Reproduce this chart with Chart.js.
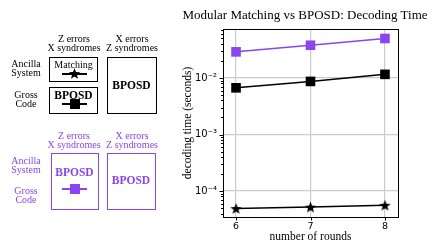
<!DOCTYPE html>
<html>
<head>
<meta charset="utf-8">
<script src="https://cdn.jsdelivr.net/npm/chart.js@4.4.1/dist/chart.umd.min.js"></script>
<style>
  html, body { margin: 0; padding: 0; background: #fff; }
  #wrap { position: relative; width: 436px; height: 250px; overflow: hidden; }
  #chart { position: absolute; left: 0; top: 0; }
  .lbl { position: absolute; font-family: "Liberation Serif", serif; font-size: 10px; line-height: 9px;
         white-space: nowrap; transform: translate(-50%, -50%); text-align: center; }
  .box { position: absolute; box-sizing: border-box; border: 1.5px solid #000; }
  .purple { color: #8a44f0; border-color: #8a44f0; }
  .bold { font-weight: bold; font-size: 11.5px; }
  .hline { position: absolute; height: 2px; }
  #title { position: absolute; left: 305px; top: 15px; transform: translate(-50%, -50%);
           font-family: "Liberation Serif", serif; font-size: 13px; white-space: nowrap; }
</style>
</head>
<body>
<div id="wrap">
  <canvas id="chart" width="436" height="250"></canvas>
  <div id="title">Modular Matching vs BPOSD: Decoding Time</div>
</div>
<script>
// ==========================================
// DATOS
// ==========================================
const rounds = [6, 7, 8];
const bposdGrossTime = [0.029, 0.038, 0.050];     // morado, cuadrados
const bposdAncillaTime = [0.0067, 0.0087, 0.0116]; // negro, cuadrados
const matchingAncillaTime = [4.9e-5, 5.2e-5, 5.6e-5]; // negro, estrellas
const yMajorTicks = [1e-4, 1e-3, 1e-2];
const yMajorLabels = ['10\u207B\u2074', '10\u207B\u00B3', '10\u207B\u00B2'];

const PURPLE = '#8a44f0';

// estrella de 5 puntas para usar como pointStyle
function makeStar(color, size) {
    const c = document.createElement('canvas');
    c.width = size; c.height = size;
    const ctx = c.getContext('2d');
    const cx = size / 2, cy = size / 2 + 0.5;
    const R = size / 2 - 0.5, r = R * 0.42;
    ctx.beginPath();
    for (let i = 0; i < 10; i++) {
        const ang = -Math.PI / 2 + i * Math.PI / 5;
        const rad = i % 2 === 0 ? R : r;
        ctx.lineTo(cx + rad * Math.cos(ang), cy + rad * Math.sin(ang));
    }
    ctx.closePath();
    ctx.fillStyle = color;
    ctx.fill();
    return c;
}
const starImg = makeStar('#000', 13);

function pts(ys) {
    return rounds.map((x, i) => ({ x: x, y: ys[i] }));
}

// ==========================================
// DIAGRAMA IZQUIERDO (HTML)
// ==========================================
const wrap = document.getElementById('wrap');

function label(text, x, y, cls) {
    const d = document.createElement('div');
    d.className = 'lbl ' + (cls || '');
    d.innerHTML = text;
    d.style.left = x + 'px';
    d.style.top = y + 'px';
    wrap.appendChild(d);
}
function box(x0, y0, x1, y1, cls) {
    const d = document.createElement('div');
    d.className = 'box ' + (cls || '');
    d.style.left = x0 + 'px'; d.style.top = y0 + 'px';
    d.style.width = (x1 - x0) + 'px'; d.style.height = (y1 - y0) + 'px';
    wrap.appendChild(d);
}
function legendMark(cx, cy, color, kind) {
    const l = document.createElement('div');
    l.className = 'hline';
    l.style.left = (cx - 12.5) + 'px'; l.style.top = (cy - 1) + 'px';
    l.style.width = '25px'; l.style.background = color;
    wrap.appendChild(l);
    if (kind === 'square') {
        const s = document.createElement('div');
        s.style.cssText = 'position:absolute;width:10px;height:10px;background:' + color + ';';
        s.style.left = (cx - 5) + 'px'; s.style.top = (cy - 5) + 'px';
        wrap.appendChild(s);
    } else {
        const st = makeStar(color, 13);
        st.style.cssText = 'position:absolute;';
        st.style.left = (cx - 6.5) + 'px'; st.style.top = (cy - 6.5) + 'px';
        wrap.appendChild(st);
    }
}

// bloque negro
label('Z errors<br>X syndromes', 74, 43);
label('X errors<br>Z syndromes', 132, 43);
label('Ancilla<br>System', 26, 68);
label('Gross<br>Code', 26, 99);
box(49, 57, 98, 82);
label('Matching', 73.5, 63.5);
legendMark(74.5, 73.5, '#000', 'star');
box(49, 87, 98, 113.5);
label('BPOSD', 73.5, 94.5, 'bold');
legendMark(74.5, 103.5, '#000', 'square');
box(106.5, 57, 156.5, 113.5);
label('BPOSD', 131.5, 85, 'bold');

// bloque morado
label('Z errors<br>X syndromes', 74, 140, 'purple');
label('X errors<br>Z syndromes', 132, 140, 'purple');
label('Ancilla<br>System', 26, 165, 'purple');
label('Gross<br>Code', 26, 195, 'purple');
box(50.5, 152.5, 99, 209.5, 'purple');
label('BPOSD', 74.5, 172, 'bold purple');
legendMark(74.5, 188.5, PURPLE, 'square');
box(106.5, 152.5, 155.5, 209.5, 'purple');
label('BPOSD', 131, 180, 'bold purple');

// ==========================================
// GRÁFICO
// ==========================================
const framePlugin = {
    id: 'frame',
    afterDraw(chart) {
        const ctx = chart.ctx;
        const a = chart.chartArea;
        const ys = chart.scales.y, xs = chart.scales.x;
        ctx.save();
        ctx.strokeStyle = '#000';
        ctx.lineWidth = 1;
        ctx.strokeRect(Math.round(a.left) + 0.5, Math.round(a.top) + 0.5,
                       Math.round(a.right - a.left), Math.round(a.bottom - a.top));
        // ticks menores y mayores del eje log
        ctx.beginPath();
        for (let e = -5; e <= -1; e++) {
            for (let m = 1; m <= 9; m++) {
                const v = m * Math.pow(10, e);
                if (v < ys.min || v > ys.max) continue;
                const py = Math.round(ys.getPixelForValue(v)) + 0.5;
                const len = m === 1 ? 3.5 : 2;
                ctx.moveTo(a.left, py);
                ctx.lineTo(a.left - len, py);
            }
        }
        rounds.forEach(r => {
            const px = Math.round(xs.getPixelForValue(r)) + 0.5;
            ctx.moveTo(px, a.bottom);
            ctx.lineTo(px, a.bottom + 3.5);
        });
        ctx.stroke();
        ctx.restore();
    }
};

new Chart(document.getElementById('chart'), {
    type: 'line',
    data: {
        datasets: [
            {
                data: pts(bposdGrossTime),
                borderColor: PURPLE, backgroundColor: PURPLE,
                borderWidth: 1.5, pointStyle: 'rect', pointRadius: 6.8,
                pointBorderWidth: 0
            },
            {
                data: pts(bposdAncillaTime),
                borderColor: '#000', backgroundColor: '#000',
                borderWidth: 1.5, pointStyle: 'rect', pointRadius: 6.8,
                pointBorderWidth: 0
            },
            {
                data: pts(matchingAncillaTime),
                borderColor: '#000', backgroundColor: '#000',
                borderWidth: 1.5, pointStyle: starImg, pointRadius: 6
            }
        ]
    },
    options: {
        responsive: false,
        animation: false,
        events: [],
        layout: { padding: { left: 173, right: 38, top: 29, bottom: 0 } },
        plugins: { legend: { display: false }, tooltip: { enabled: false } },
        scales: {
            x: {
                type: 'linear', min: 5.825, max: 8.175,
                afterBuildTicks: (s) => { s.ticks = rounds.map(v => ({ value: v })); },
                afterFit: (s) => { s.height = 33; },
                border: { display: false },
                grid: { color: '#cccccc', lineWidth: 1.2, drawTicks: false },
                ticks: { color: '#000', padding: 4, font: { family: 'DejaVu Sans', size: 9.5 } },
                title: { display: true, text: 'number of rounds', color: '#000',
                         padding: { top: 0, bottom: 6 },
                         font: { family: 'Liberation Serif', size: 11.5 } }
            },
            y: {
                type: 'logarithmic', min: 3.47e-5, max: 0.0736,
                afterBuildTicks: (s) => { s.ticks = yMajorTicks.map(v => ({ value: v })); },
                afterFit: (s) => { s.width = 50; },
                border: { display: false },
                grid: { color: '#cccccc', lineWidth: 1.2, drawTicks: false },
                ticks: {
                    color: '#000', padding: 6, font: { family: 'DejaVu Sans', size: 10 },
                    callback: (v) => {
                        const i = yMajorTicks.indexOf(v);
                        return i >= 0 ? yMajorLabels[i] : '';
                    }
                },
                title: { display: true, text: 'decoding time (seconds)', color: '#000',
                         padding: { top: 8, bottom: 0 },
                         font: { family: 'Liberation Serif', size: 11.5 } }
            }
        }
    },
    plugins: [framePlugin]
});
</script>
</body>
</html>
